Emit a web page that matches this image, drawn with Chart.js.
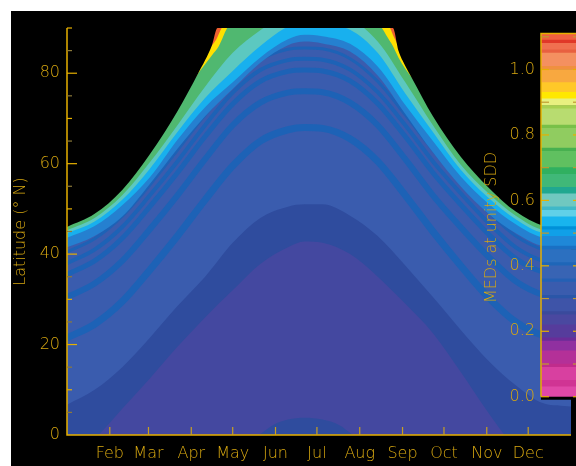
<!DOCTYPE html>
<html><head><meta charset="utf-8">
<script src="https://cdn.jsdelivr.net/npm/chart.js@4.4.1/dist/chart.umd.min.js"></script>
<style>
html,body{margin:0;padding:0;background:#fff;overflow:hidden;width:576px;height:466px;}
#bg{position:absolute;left:11px;top:11px;width:565px;height:455px;background:#000;}
#main{position:absolute;left:0;top:0;width:576px;height:466px;}
#cb{position:absolute;left:470px;top:0;width:115px;height:466px;}
</style></head><body>
<div id="bg"></div>
<canvas id="main" width="576" height="466"></canvas>
<canvas id="cb" width="115" height="466"></canvas>
<script>
// ---------- data ----------
const MONTH_DAYS   = [31,59,90,120,151,181,212,243,273,304,334];
const MONTH_LABELS = ['Feb','Mar','Apr','May','Jun','Jul','Aug','Sep','Oct','Nov','Dec'];

// common day-of-year samples for the iso-lines
const DAYS = [0,20,40,60,80,100,120,140,160,172,185,205,225,245,265,285,305,325,345,365];

// edge of the coloured field (black above)
const EDGE_DAYS = [0,20,40,60,80,95,105,109,236,240,245,250,265,285,305,325,345,355,365];
const EDGE_LAT  = [46,48.9,54.2,62.1,71.6,80,86.2,90,90,85,81.6,78.8,70.5,61.6,54.8,49.4,46.2,45.6,45.8];

// lower edges of the high-value colour bands
const RED_DAYS   = [0,60,100,105,108,112,118,228,234,236,240,250,300,365];
const RED_LAT    = [47,63,84.5,86.2,87.4,90,92,92,90,88.5,86,80,57,47];
const YELLOW_DAYS= [0,60,95,100,105,110,116,122,222,228,232,236,240,245,255,300,365];
const YELLOW_LAT = [46.8,62.8,80,82,84,86,90,92,92,90,88,86,83.5,81,77,56.5,46.5];
const GREEN_LAT  = [45.3,48,53,60.3,68.5,77,84.5,89.5,93,94,93,92,87,78,68.5,59.8,53.5,48.5,45.4,45.1];
const TEAL_LAT   = [44.6,47.2,52,58.9,67,74.5,80.5,86,90.3,91,90.8,89.6,84.5,75.5,67,58.7,52.5,47.7,44.7,44.4];
const CYAN_LAT   = [43.6,46.2,50.8,57,65.3,72.5,78,83.5,87.5,88.5,88.2,86.5,81.5,73,65,57.2,51.2,46.6,43.7,43.4];
const LBLUE_LAT  = [41.5,44,48.3,55.5,63.3,70.5,76.5,82.3,86.2,87,86.6,84.8,79.5,71,62.5,55,49,44.6,41.8,41.5];

// dark contour stripes
const STRIPE0 = [40.5,43.4,48.4,55.3,63,70.8,78,83,85.3,85.6,85.4,83.2,78.2,70.8,63,55.8,49.4,44,41,40.3];
const STRIPE1 = [38,41,46,53,60.5,68.5,75.7,80.7,82.9,83.2,83,80.8,75.8,68.5,60.5,53.5,47,41.5,38.5,37.8];
const STRIPE2 = [35.5,38.5,43.5,50.5,58,66,73.2,78.2,80.4,80.7,80.5,78.3,73.3,66,58,51,44.5,39,36,35.3];
const STRIPE3 = [30.5,33.5,38.5,45.5,53,61,68.5,73.5,75.7,76,75.8,73.5,68.5,61,53,46,39.5,34,31,30.3];
const STRIPE4 = [21.5,24.5,29.5,36.5,44,52,59.5,65,67.5,68,67.8,65.5,60.5,53,45,37.5,30.5,25,22,21.3];

// wide dark band (upper / lower edge)
const BAND_TOP = [6.7,10,15,21.5,28.5,35,42.5,48,50.5,51,51,48.5,44,37.5,30.5,23.3,16.5,11,7,6.3];
const BAND_BOT = [-5,-0.8,5.8,12.5,19.5,26,32,37.8,41.5,42.8,42.5,40,35,29,22.5,14,5,-3,-8,-10];

// small dark dome at the equator in summer
const DOME_DAYS = [139,150,160,172,185,197,207];
const DOME_LAT  = [0,2.3,3.4,3.8,3.4,2.2,0];

// colour bar
const CB_EDGES  = [0,0.03,0.05,0.09,0.10,0.14,0.17,0.18,0.22,0.25,0.26,0.30,0.31,0.35,0.36,0.40,0.41,0.45,0.46,0.49,0.51,0.52,0.55,0.57,0.58,0.62,0.64,0.68,0.70,0.75,0.76,0.82,0.83,0.88,0.89,0.91,0.93,0.96,1.00,1.01,1.05,1.06,1.08,1.09,1.11];
const CB_COLORS = ['#e048a8','#d03494','#d840a0','#c02c8c','#b43098','#9030a0','#6a2c98','#563c9c','#4a48a0','#3a4a9c','#3e54a8','#2a56a8','#3a5cae','#2460b4','#3864b4','#1e66b8','#2c70c0','#1a70c4','#1f88d8','#10a0e8','#0090d8','#18b4ee','#60d0e8','#40b8c8','#70c8c0','#20a890','#40b878','#30b060','#60c060','#48b050','#90cc60','#78c048','#b8dc70','#a8d050','#e8f080','#ffe800','#ffc828','#f8a840','#f09040','#f49060','#e86040','#f07050','#e03828','#f06040'];

// ---------- styling ----------
const GOLD = '#e6b000', TEXT = '#d8a810', DIM = '#8c7a3a';
const FONT = {family:'"DejaVu Sans", Roboto, sans-serif', size:16, weight:'200'};

function pts(days, lats){ return days.map((d,i)=>({x:d,y:lats[i]})); }

const layers = [];
function area(days, lats, color, fill){ layers.push({data:pts(days,lats), fill:fill||'end', backgroundColor:color, borderWidth:0, pointRadius:0, cubicInterpolationMode:'monotone'}); }
function stripe(lats, w){ layers.push({data:pts(DAYS,lats), fill:false, borderColor:'#1d62b6', borderWidth:w, pointRadius:0, cubicInterpolationMode:'monotone'}); }

area(DOME_DAYS, DOME_LAT, '#2f4c9e', 'start');
area(DAYS, BAND_BOT, '#2f4c9e');
area(DAYS, BAND_TOP, '#3a5cae');
stripe(STRIPE4, 7); stripe(STRIPE3, 6); stripe(STRIPE2, 5); stripe(STRIPE1, 4); stripe(STRIPE0, 3);
area(DAYS, LBLUE_LAT, '#2580d0');
area(DAYS, CYAN_LAT, '#18b0ee');
area(DAYS, TEAL_LAT, '#5cc8c0');
area(DAYS, GREEN_LAT, '#50b870');
area(YELLOW_DAYS, YELLOW_LAT, '#ffe000');
area(RED_DAYS, RED_LAT, '#f06030');
area(EDGE_DAYS, EDGE_LAT, '#000000');
layers.forEach((l,i)=>{ l.order = 100 - i; });

const mainPlugin = {
  id:'mainAxes',
  beforeDatasetsDraw(chart){
    const {ctx, chartArea:a} = chart;
    ctx.save(); ctx.fillStyle = '#4448a0'; ctx.fillRect(a.left, a.top, a.right-a.left, a.bottom-a.top); ctx.restore();
  },
  afterDatasetsDraw(chart){
    const {ctx, chartArea:a, scales:{x,y}} = chart;
    ctx.save();
    ctx.lineWidth = 1.5;
    ctx.strokeStyle = GOLD;
    ctx.beginPath(); ctx.moveTo(a.left, a.top); ctx.lineTo(a.left, a.bottom); ctx.lineTo(a.right, a.bottom); ctx.stroke();
    ctx.lineWidth = 1.2;
    for (let v = 5; v <= 90; v += 5){
      const py = y.getPixelForValue(v);
      const len = (v % 20 === 0) ? 10 : 5;
      ctx.strokeStyle = (v % 10 === 0) ? GOLD : DIM;
      ctx.beginPath(); ctx.moveTo(a.left, py); ctx.lineTo(a.left + len, py); ctx.stroke();
    }
    ctx.strokeStyle = '#c8a020';
    for (const d of MONTH_DAYS){
      const px = x.getPixelForValue(d);
      ctx.beginPath(); ctx.moveTo(px, a.bottom); ctx.lineTo(px, a.bottom - 8); ctx.stroke();
    }
    ctx.restore();
  }
};

new Chart(document.getElementById('main'), {
  type:'line',
  data:{datasets:layers},
  options:{
    responsive:false, animation:false, events:[],
    layout:{padding:{left:0,right:5,top:28,bottom:0}},
    plugins:{legend:{display:false}, tooltip:{enabled:false}, filler:{propagate:false}},
    scales:{
      x:{type:'linear', min:0, max:365,
         grid:{display:false, drawTicks:false}, border:{display:false},
         afterBuildTicks:s=>{ s.ticks = MONTH_DAYS.map(v=>({value:v})); },
         afterFit:s=>{ s.height = 31; },
         ticks:{autoSkip:false, maxRotation:0, padding:9, color:TEXT, font:FONT,
                callback:(v,i)=>MONTH_LABELS[i]}},
      y:{type:'linear', min:0, max:90,
         grid:{display:false, drawTicks:false}, border:{display:false},
         afterFit:s=>{ s.width = 67; },
         ticks:{stepSize:20, includeBounds:false, padding:7, color:TEXT, font:FONT},
         title:{display:true, text:'Latitude (° N)', color:TEXT, font:FONT, padding:{top:11,bottom:0}}}
    }
  },
  plugins:[mainPlugin]
});

// ---------- colour bar ----------
const cbSets = CB_COLORS.map((c,i)=>({data:[[CB_EDGES[i], CB_EDGES[i+1]]], backgroundColor:c, borderWidth:0, barPercentage:1, categoryPercentage:1, grouped:false}));
const cbPlugin = {
  id:'cbFrame',
  afterDatasetsDraw(chart){
    const {ctx, chartArea:a, scales:{y}} = chart;
    const top = y.getPixelForValue(1.11), bot = y.getPixelForValue(0);
    ctx.save();
    ctx.fillStyle = '#000'; ctx.fillRect(a.left, bot, a.right-a.left, 3);
    ctx.strokeStyle = GOLD; ctx.lineWidth = 1.5;
    ctx.beginPath(); ctx.moveTo(a.left, bot); ctx.lineTo(a.left, top); ctx.lineTo(a.right, top); ctx.stroke();
    ctx.lineWidth = 1.2;
    for (let k = 0; k <= 11; k++){
      const py = y.getPixelForValue(k/10);
      ctx.strokeStyle = (k % 2 === 0) ? GOLD : '#c09a30';
      ctx.beginPath(); ctx.moveTo(a.left, py); ctx.lineTo(a.left + 8, py); ctx.stroke();
      ctx.beginPath(); ctx.moveTo(a.right, py); ctx.lineTo(a.right - 8, py); ctx.stroke();
    }
    ctx.restore();
  }
};
new Chart(document.getElementById('cb'), {
  type:'bar',
  data:{labels:['MED'], datasets:cbSets},
  options:{
    responsive:false, animation:false, events:[],
    layout:{padding:{left:0,right:4,top:33.5,bottom:44.5}},
    plugins:{legend:{display:false}, tooltip:{enabled:false}},
    scales:{
      x:{display:false, stacked:true},
      y:{min:-0.0757, max:1.11, stacked:false,
         grid:{display:false, drawTicks:false}, border:{display:false},
         afterBuildTicks:s=>{ s.ticks = [0,0.2,0.4,0.6,0.8,1.0].map(v=>({value:v})); },
         afterFit:s=>{ s.width = 71; },
         ticks:{padding:6, color:TEXT, font:FONT, callback:v=>Number(v).toFixed(1)},
         title:{display:true, text:'MEDs at unity SDD', color:TEXT, font:FONT, padding:{top:12,bottom:0}}}
    }
  },
  plugins:[cbPlugin]
});
</script></body></html>
